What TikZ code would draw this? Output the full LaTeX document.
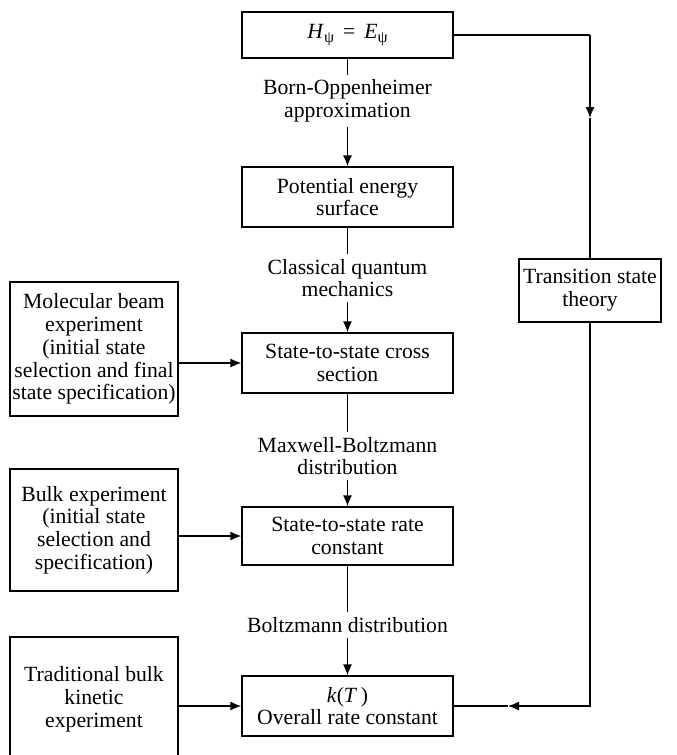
\documentclass[tikz,border=0pt]{standalone}
\usepackage{fontspec}
\setmainfont{Liberation Serif}
\usetikzlibrary{arrows.meta}
\newcommand{\psub}{\raisebox{-0.4ex}{\fontsize{16}{16}\selectfont ψ}}
\begin{document}
\begin{tikzpicture}[x=1pt,y=-1pt,
  font=\fontsize{21.7}{22.8}\selectfont,
  box/.style={draw, line width=1.3pt, align=center, inner sep=2pt},
  cbox/.style={box, minimum width=211pt},
  lbox/.style={box, minimum width=168pt},
  lbl/.style={align=center, inner sep=5pt},
  conn/.style={line width=1.3pt},
  arr/.style={-{Latex[length=11pt,width=9pt]}}]
\useasboundingbox (0,0) rectangle (677,755);
\clip (0,0) rectangle (677,755);
% central column
\node[cbox, minimum height=46pt] (top) at (347.5,35) {\textit{H}\psub\ \,=\, \textit{E}\psub};
\node[lbl] (bo) at (347.5,101) {Born-Oppenheimer\\approximation};
\node[cbox, minimum height=60pt] (pes) at (347.5,197) {Potential energy\\surface};
\node[lbl] (cq) at (347.5,278) {Classical quantum\\mechanics};
\node[cbox, minimum height=60pt] (cross) at (347.5,363) {State-to-state cross\\section};
\node[lbl] (mb) at (347.5,456) {Maxwell-Boltzmann\\distribution};
\node[cbox, minimum height=58pt] (rate) at (347.5,536) {State-to-state rate\\constant};
\node[lbl] (bd) at (347.5,625) {Boltzmann distribution};
\node[cbox, minimum height=60pt] (kT) at (347.5,706) {\textit{k}(\textit{T}\,)\\Overall rate constant};
% left column
\node[lbox, minimum height=134pt] (mol) at (94,349) {Molecular beam\\experiment\\(initial state\\selection and final\\state specification)};
\node[lbox, minimum height=122pt] (bulk) at (94,530) {Bulk experiment\\(initial state\\selection and\\specification)};
\node[lbox, minimum height=124pt] (trad) at (94,699) {Traditional bulk\\kinetic\\experiment};
% right column
\node[box, minimum width=142pt, minimum height=63pt] (tst) at (590,290.5) {Transition state\\theory};
% connectors, central
\draw[conn] (top.south) -- (bo.north);
\draw[conn,arr] (bo.south) -- (pes.north);
\draw[conn] (pes.south) -- (cq.north);
\draw[conn,arr] (cq.south) -- (cross.north);
\draw[conn] (cross.south) -- (mb.north);
\draw[conn,arr] (mb.south) -- (rate.north);
\draw[conn] (rate.south) -- (bd.north);
\draw[conn,arr] (bd.south) -- (kT.north);
% connectors, left
\draw[conn,arr] (mol.east |- cross.west) -- (cross.west);
\draw[conn,arr] (bulk.east |- rate.west) -- (rate.west);
\draw[conn,arr] (trad.east |- kT.west) -- (kT.west);
% connectors, right
\coordinate (c1) at (tst.north |- top.east);
\coordinate (a1) at (590,118);
\coordinate (c2) at (tst.south |- kT.east);
\coordinate (a2) at (508,706);
\draw[conn] (top.east) -- (c1);
\draw[conn,arr] (c1) -- (a1);
\draw[conn] (a1) -- (tst.north);
\draw[conn,arr] (tst.south) -- (c2) -- (a2);
\draw[conn] (a2) -- (kT.east);
\end{tikzpicture}
\end{document}
